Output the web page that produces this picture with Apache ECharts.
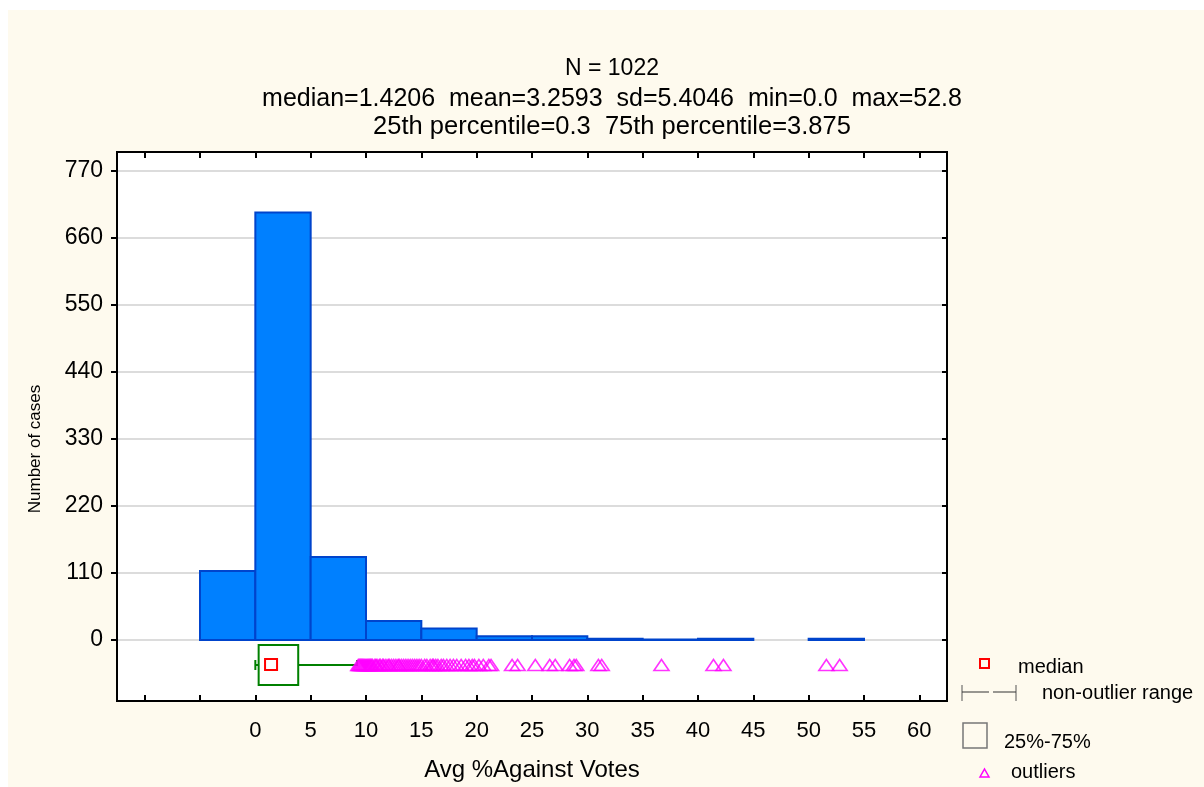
<!DOCTYPE html>
<html>
<head>
<meta charset="utf-8">
<script src="https://cdn.jsdelivr.net/npm/echarts@6/dist/echarts.min.js"></script>
<style>
  html, body { margin: 0; padding: 0; background: #ffffff; }
  #cream { position: absolute; left: 8px; top: 10px; width: 1196px; height: 777px; background: #FEFAEE; }
  #main { position: absolute; left: 0; top: 0; width: 1204px; height: 787px; }
</style>
</head>
<body>
<div id="cream"></div>
<div id="main"></div>
<script>
// ---- data ----
const titleLines = [
  'N = 1022',
  'median=1.4206  mean=3.2593  sd=5.4046  min=0.0  max=52.8',
  '25th percentile=0.3  75th percentile=3.875'
];
const binStarts = [-5, 0, 5, 10, 15, 20, 25, 30, 35, 40, 45, 50];
const binCounts = [113, 701, 136, 31, 19, 6, 6, 2, 1, 2, 0, 2];
const binWidth = 5;
// [non-outlier min, 25th pct, median, 75th pct, non-outlier max]
const boxValues = [0, 0.3, 1.4206, 3.875, 9.2];
const outliers = [
  9.3, 9.4, 9.5, 9.6, 9.7, 9.8, 9.9,
  10.0, 10.1, 10.2, 10.3, 10.4, 10.5, 10.6, 10.8, 10.9, 11.0, 11.2, 11.3, 11.5, 11.6, 11.8,
  12.0, 12.1, 12.3, 12.5, 12.7, 12.9, 13.0, 13.2, 13.4, 13.6, 13.8, 14.0, 14.2, 14.4, 14.6, 14.8,
  15.0, 15.3, 15.5, 15.8, 16.0, 16.1, 16.3, 16.5, 16.8, 17.0, 17.3, 17.6, 17.9, 18.2, 18.6, 19.0, 19.3, 19.6, 19.8,
  20.2, 20.6, 21.1, 21.3, 23.2, 23.7,
  25.3, 26.6, 27.1, 28.4, 28.8, 29.0,
  31.0, 31.3, 36.7, 41.4, 42.3, 51.6, 52.8
];
const xTickValues = [-10, -5, 0, 5, 10, 15, 20, 25, 30, 35, 40, 45, 50, 55, 60];
const xLabelValues = [0, 5, 10, 15, 20, 25, 30, 35, 40, 45, 50, 55, 60];
const yTickValues = [0, 110, 220, 330, 440, 550, 660, 770];
const xName = 'Avg %Against Votes';
const yName = 'Number of cases';
const legendTexts = ['median', 'non-outlier range', '25%-75%', 'outliers'];

// ---- chart ----
const FONT = 'Liberation Sans, Arial, sans-serif';
const boxLevel = -41;
const chart = echarts.init(document.getElementById('main'), null, { renderer: 'canvas' });

const barData = binStarts.map((s, i) => [s, binCounts[i]]);
const outlierData = outliers.map(v => [v, boxLevel]);

const axisBase = {
  type: 'value', min: -12.5, max: 62.5,
  axisLine: { show: true, onZero: false, lineStyle: { color: '#000', width: 2 } },
  splitLine: { show: false }
};

const titleSizes = [23, 25, 25.5];
const titleY = [69, 99, 127];

const option = {
  animation: false,
  backgroundColor: 'transparent',
  textStyle: { fontFamily: FONT },
  grid: {
    left: 117, right: 257, top: 152, bottom: 84,
    show: true, backgroundColor: '#ffffff', borderColor: '#000', borderWidth: 2
  },
  xAxis: [
    Object.assign({}, axisBase, {
      position: 'bottom',
      name: xName, nameLocation: 'middle', nameGap: 57,
      nameTextStyle: { fontSize: 24, color: '#000', fontFamily: FONT },
      axisTick: { show: true, inside: true, length: 6, customValues: xTickValues, lineStyle: { color: '#000', width: 2 } },
      axisLabel: { show: true, customValues: xLabelValues, margin: 19, fontSize: 22, color: '#000', fontFamily: FONT }
    }),
    Object.assign({}, axisBase, {
      position: 'top',
      axisTick: { show: true, inside: true, length: 6, customValues: xTickValues, lineStyle: { color: '#000', width: 2 } },
      axisLabel: { show: false }
    })
  ],
  yAxis: [
    {
      type: 'value', min: -100, max: 800, position: 'left',
      axisLine: { show: true, onZero: false, lineStyle: { color: '#000', width: 2 } },
      axisTick: { show: true, inside: false, length: 6, customValues: yTickValues, lineStyle: { color: '#000', width: 2 } },
      axisLabel: { show: true, customValues: yTickValues, margin: 14, fontSize: 23, color: '#000', fontFamily: FONT },
      splitLine: { show: true, lineStyle: { color: '#DCDCDC', width: 2 } }
    },
    {
      type: 'value', min: -100, max: 800, position: 'right',
      axisLine: { show: true, onZero: false, lineStyle: { color: '#000', width: 2 } },
      axisTick: { show: true, inside: true, length: 5, customValues: yTickValues, lineStyle: { color: '#000', width: 2 } },
      axisLabel: { show: false },
      splitLine: { show: false }
    }
  ],
  series: [
    {
      type: 'custom', name: 'histogram', xAxisIndex: 0, yAxisIndex: 0,
      data: barData,
      encode: { x: 0, y: 1 },
      renderItem: function (params, api) {
        const s = api.value(0), c = api.value(1);
        if (!c) return null;
        const p0 = api.coord([s, c]);
        const p1 = api.coord([s + binWidth, 0]);
        return {
          type: 'rect',
          shape: { x: p0[0], y: p0[1], width: p1[0] - p0[0], height: p1[1] - p0[1] },
          style: { fill: '#0080FF', stroke: '#0044CC', lineWidth: 2 }
        };
      },
      z: 2
    },
    {
      type: 'custom', name: 'boxplot', xAxisIndex: 0, yAxisIndex: 0,
      data: [boxValues],
      encode: { x: [0, 1, 2, 3, 4] },
      renderItem: function (params, api) {
        const lo = api.coord([api.value(0), boxLevel]);
        const q1 = api.coord([api.value(1), boxLevel]);
        const md = api.coord([api.value(2), boxLevel]);
        const q3 = api.coord([api.value(3), boxLevel]);
        const hi = api.coord([api.value(4), boxLevel]);
        const y = md[1];
        const green = '#008000';
        return {
          type: 'group',
          children: [
            { type: 'line', shape: { x1: lo[0], y1: y, x2: q1[0], y2: y }, style: { stroke: green, lineWidth: 2 } },
            { type: 'line', shape: { x1: lo[0], y1: y - 5, x2: lo[0], y2: y + 5 }, style: { stroke: green, lineWidth: 2 } },
            { type: 'line', shape: { x1: q3[0], y1: y, x2: hi[0], y2: y }, style: { stroke: green, lineWidth: 2 } },
            { type: 'line', shape: { x1: hi[0], y1: y - 5, x2: hi[0], y2: y + 1 }, style: { stroke: green, lineWidth: 2 } },
            { type: 'rect', shape: { x: q1[0], y: y - 20, width: q3[0] - q1[0], height: 40 }, style: { fill: 'none', stroke: green, lineWidth: 2 } },
            { type: 'rect', shape: { x: md[0] - 6, y: y - 6, width: 12, height: 11 }, style: { fill: 'none', stroke: '#FF0000', lineWidth: 2 } }
          ]
        };
      },
      z: 3
    },
    {
      type: 'scatter', name: 'outliers', xAxisIndex: 0, yAxisIndex: 0,
      data: outlierData,
      symbol: 'triangle', symbolSize: [15, 11],
      itemStyle: { color: 'rgba(0,0,0,0)', borderColor: '#FF00FF', borderWidth: 1.6 },
      z: 4
    }
  ],
  graphic: titleLines.map((t, i) => ({
    type: 'text', x: 612, y: titleY[i],
    style: { text: t, font: titleSizes[i] + 'px ' + FONT, fill: '#000', align: 'center', verticalAlign: 'middle' }
  })).concat([
    { type: 'text', x: 35, y: 449, rotation: Math.PI / 2,
      style: { text: yName, font: '17px ' + FONT, fill: '#000', align: 'center', verticalAlign: 'middle' } },
    // legend
    { type: 'rect', shape: { x: 980, y: 659, width: 9, height: 9 }, style: { fill: 'none', stroke: '#FF0000', lineWidth: 2 } },
    { type: 'text', x: 1018, y: 667, style: { text: legendTexts[0], font: '20px ' + FONT, fill: '#000', verticalAlign: 'middle' } },
    { type: 'line', shape: { x1: 962, y1: 685, x2: 962, y2: 701 }, style: { stroke: '#555', lineWidth: 1 } },
    { type: 'line', shape: { x1: 1016, y1: 685, x2: 1016, y2: 701 }, style: { stroke: '#555', lineWidth: 1 } },
    { type: 'line', shape: { x1: 962, y1: 692, x2: 989, y2: 692 }, style: { stroke: '#333', lineWidth: 1 } },
    { type: 'line', shape: { x1: 993, y1: 692, x2: 1016, y2: 692 }, style: { stroke: '#333', lineWidth: 1 } },
    { type: 'text', x: 1042, y: 693, style: { text: legendTexts[1], font: '20px ' + FONT, fill: '#000', verticalAlign: 'middle' } },
    { type: 'rect', shape: { x: 963, y: 723, width: 24, height: 25 }, style: { fill: 'none', stroke: '#777', lineWidth: 1.5 } },
    { type: 'text', x: 1004, y: 742, style: { text: legendTexts[2], font: '20px ' + FONT, fill: '#000', verticalAlign: 'middle' } },
    { type: 'polygon', shape: { points: [[980, 777], [989, 777], [984.5, 769]] }, style: { fill: 'none', stroke: '#FF00FF', lineWidth: 1.5 } },
    { type: 'text', x: 1011, y: 772, style: { text: legendTexts[3], font: '20px ' + FONT, fill: '#000', verticalAlign: 'middle' } }
  ])
};
chart.setOption(option);
</script>
</body>
</html>
